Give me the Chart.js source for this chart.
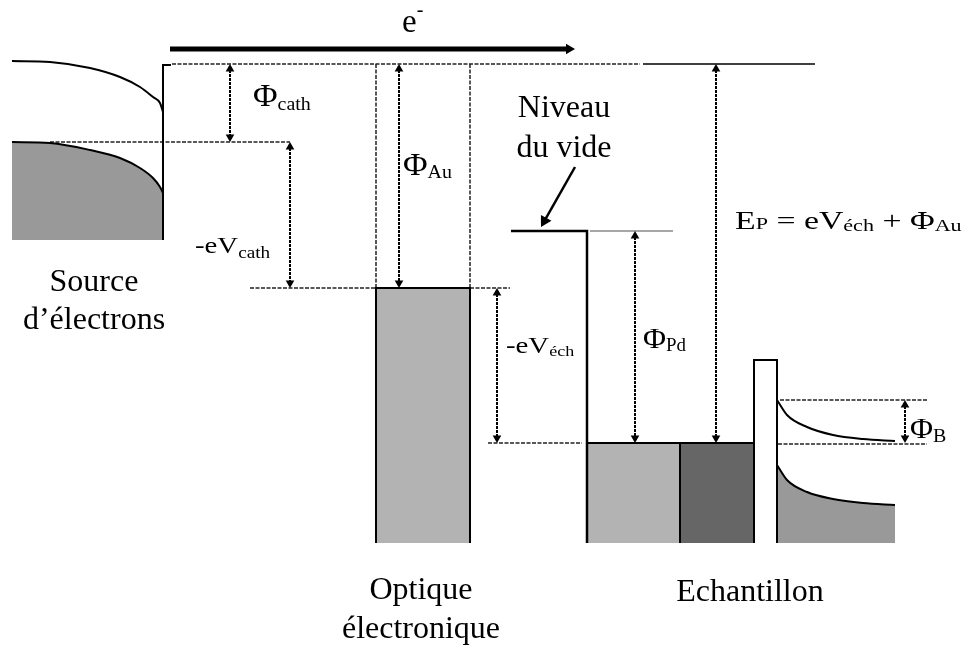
<!DOCTYPE html>
<html>
<head>
<meta charset="utf-8">
<script src="https://cdn.jsdelivr.net/npm/chart.js@4.4.1/dist/chart.umd.min.js"></script>
<style>
  body { margin: 0; background: #fff; }
  #wrap { width: 971px; height: 648px; }
</style>
</head>
<body>
<div id="wrap"><canvas id="diagram" width="971" height="648"></canvas></div>
<script>
// Diagramme de bandes : source -> optique -> échantillon
// axe x = position, axe y = énergie (vers le bas), unités de la figure

// niveaux d'énergie
const vacuumY = 64;
const cathFermiY = 142;
const auFermiY = 288;
const pdVacY = 231;
const pdFermiY = 443;
const cathBottomY = 240;
const bandBottomY = 543;
const barrierTopY = 360;

// source : courbure des bandes près de la pointe
const cathX      = [12, 50, 90, 120, 140, 153, 160, 163];
const cathVacY   = [61, 62, 68, 77, 87, 97, 103, 112];
const cathBandY  = [142, 143, 150, 158, 168, 178, 187, 193];

// semi-conducteur (à droite de la barrière)
const scX   = [777, 787, 807, 833, 863, 895];
const scCbY = [400, 415, 427, 435, 439, 441];
const scVbY = [465, 480, 492, 499, 503, 505];

// positions des blocs
const cathEdgeX = 163;
const auX = [376, 470];
const pdStepX = [511, 587];
const pdX = [587, 680, 754];
const barrierX = [754, 777];

// flèches doubles (pointillées) : x, haut, bas
const arrowX   = [230, 290, 399, 497, 635, 716, 905];
const arrowTop = [vacuumY, cathFermiY, vacuumY, auFermiY, pdVacY, vacuumY, 400];
const arrowBot = [cathFermiY, auFermiY, auFermiY, pdFermiY, pdFermiY, pdFermiY, pdFermiY];

// libellés
const labels = [
  { x: 94,  y: 291, align: 'center', parts: [['Source', 32]] },
  { x: 94,  y: 329, align: 'center', parts: [['d\u2019électrons', 32]] },
  { x: 421, y: 599, align: 'center', parts: [['Optique', 32]] },
  { x: 421, y: 638, align: 'center', parts: [['électronique', 32]] },
  { x: 750, y: 601, align: 'center', parts: [['Echantillon', 32]] },
  { x: 564, y: 117, align: 'center', parts: [['Niveau', 32]] },
  { x: 564, y: 157, align: 'center', parts: [['du vide', 32]] },
  { x: 402, y: 32, parts: [['e', 33], ['-', 20, -16]] },
  { x: 253, y: 106, sx: 1.05, parts: [['Φ', 32], ['cath', 19, 4]] },
  { x: 195, y: 253, sx: 1.2, parts: [['-eV', 24], ['cath', 16, 5]] },
  { x: 403, y: 175, sx: 1.05, parts: [['Φ', 32], ['Au', 19, 3]] },
  { x: 506, y: 353, sx: 1.2, parts: [['-eV', 24], ['éch', 15, 3]] },
  { x: 643, y: 348, sx: 1.05, parts: [['Φ', 30], ['Pd', 18, 3]] },
  { x: 910, y: 438, sx: 1.05, parts: [['Φ', 30], ['B', 19, 4]] },
  { x: 735, y: 229, sx: 1.3, parts: [['E', 26], ['P', 17, 0], [' = eV', 26], ['éch', 17, 2], [' + Φ', 26], ['Au', 17, 2]] }
];

const DOT = { borderDash: [4, 1.5], borderWidth: 1.5, borderColor: '#222' };

function seg(xs, ys, opts) {
  return Object.assign({
    data: xs.map((x, i) => ({ x: x, y: ys[i] })),
    borderColor: '#000', borderWidth: 2, pointRadius: 0, fill: false
  }, opts || {});
}

function heads(pts, rot, r) {
  return {
    data: pts, showLine: false, pointStyle: 'triangle',
    pointRadius: r, pointRotation: rot,
    pointBackgroundColor: '#000', pointBorderWidth: 0, pointBorderColor: '#000'
  };
}

let ds = [];

// remplissages
ds.push(seg(cathX, cathBandY, { borderWidth: 0, fill: { value: cathBottomY }, backgroundColor: '#999999', cubicInterpolationMode: 'monotone' }));
ds.push(seg(auX, [auFermiY, auFermiY], { borderWidth: 0, fill: { value: bandBottomY }, backgroundColor: '#b3b3b3' }));
ds.push(seg([pdX[0], pdX[1]], [pdFermiY, pdFermiY], { borderWidth: 0, fill: { value: bandBottomY }, backgroundColor: '#b3b3b3' }));
ds.push(seg([pdX[1], pdX[2]], [pdFermiY, pdFermiY], { borderWidth: 0, fill: { value: bandBottomY }, backgroundColor: '#666666' }));
ds.push(seg(scX, scVbY, { borderWidth: 0, fill: { value: bandBottomY }, backgroundColor: '#999999', cubicInterpolationMode: 'monotone' }));

// lignes pointillées de référence
ds.push(seg([172, 640], [vacuumY, vacuumY], DOT));
ds.push(seg([50, 290], [cathFermiY, cathFermiY], DOT));
ds.push(seg([250, 510], [auFermiY, auFermiY], DOT));
ds.push(seg([auX[0], auX[0]], [vacuumY, auFermiY], DOT));
ds.push(seg([auX[1], auX[1]], [vacuumY, auFermiY], DOT));
ds.push(seg([488, 582], [pdFermiY, pdFermiY], DOT));
ds.push(seg([780, 928], [400, 400], DOT));
ds.push(seg([778, 927], [444, 444], DOT));

// source
ds.push(seg(cathX, cathVacY, { cubicInterpolationMode: 'monotone' }));
ds.push(seg(cathX, cathBandY, { cubicInterpolationMode: 'monotone' }));
ds.push(seg([cathEdgeX + 8, cathEdgeX, cathEdgeX], [65, 65, cathBottomY]));

// optique
ds.push(seg([auX[0], auX[0], auX[1], auX[1]], [bandBottomY, auFermiY, auFermiY, bandBottomY]));

// échantillon
ds.push(seg([643, 815], [vacuumY, vacuumY], { borderWidth: 1.5 }));
ds.push(seg([pdStepX[0], pdStepX[1], pdStepX[1]], [pdVacY, pdVacY, bandBottomY], { borderWidth: 2.5 }));
ds.push(seg([590, 673], [pdVacY, pdVacY], { borderWidth: 1.5, borderColor: '#888888' }));
ds.push(seg([pdX[0], pdX[2]], [pdFermiY, pdFermiY]));
ds.push(seg([pdX[1], pdX[1]], [pdFermiY, bandBottomY]));
ds.push(seg([barrierX[0], barrierX[0], barrierX[1], barrierX[1]], [bandBottomY, barrierTopY, barrierTopY, bandBottomY]));
ds.push(seg(scX, scCbY, { cubicInterpolationMode: 'monotone' }));
ds.push(seg(scX, scVbY, { cubicInterpolationMode: 'monotone' }));

// flèches doubles
const R = 5;
arrowX.forEach((x, i) => {
  ds.push(seg([x, x], [arrowTop[i] + 2, arrowBot[i] - 2], { borderDash: [3, 1], borderWidth: 2 }));
  ds.push(heads([{ x: x, y: arrowTop[i] + R }, { x: x, y: arrowBot[i] - R }], [0, 180], R));
});

// flèche e-
const beamY = 49, beamX = [170, 575], RB = 6;
ds.push(seg([beamX[0], beamX[1] - 1.5 * RB], [beamY, beamY], { borderWidth: 5 }));
ds.push(heads([{ x: beamX[1] - RB, y: beamY }], [90], RB));

// flèche "Niveau du vide"
const tail = [575, 167], tip = [541, 227], RN = 7;
const len = Math.hypot(tip[0] - tail[0], tip[1] - tail[1]);
const ux = (tip[0] - tail[0]) / len, uy = (tip[1] - tail[1]) / len;
ds.push(seg([tail[0], tip[0] - ux * RN], [tail[1], tip[1] - uy * RN], { borderWidth: 2.5 }));
ds.push(heads([{ x: tip[0] - ux * RN, y: tip[1] - uy * RN }], [Math.atan2(ux, -uy) * 180 / Math.PI], RN));

// premier de la liste dessiné en premier
ds.forEach((d, i) => { d.order = ds.length - i; });

const textPlugin = {
  id: 'textLabels',
  afterDraw(chart) {
    const ctx = chart.ctx, sx = chart.scales.x, sy = chart.scales.y;
    ctx.save();
    ctx.fillStyle = '#000';
    ctx.textBaseline = 'alphabetic';
    labels.forEach(l => {
      const k = l.sx || 1;
      let w = 0;
      l.parts.forEach(p => { ctx.font = p[1] + 'px "Liberation Serif"'; w += ctx.measureText(p[0]).width; });
      let px = sx.getPixelForValue(l.x), py = sy.getPixelForValue(l.y);
      if (l.align === 'center') px -= w * k / 2;
      ctx.save();
      ctx.translate(px, py);
      ctx.scale(k, 1);
      let cx = 0;
      l.parts.forEach(p => {
        ctx.font = p[1] + 'px "Liberation Serif"';
        ctx.fillText(p[0], cx, p[2] || 0);
        cx += ctx.measureText(p[0]).width;
      });
      ctx.restore();
    });
    ctx.restore();
  }
};

new Chart(document.getElementById('diagram'), {
  type: 'line',
  data: { datasets: ds },
  options: {
    responsive: false,
    animation: false,
    layout: { padding: 0, autoPadding: false },
    plugins: { legend: { display: false }, tooltip: { enabled: false } },
    scales: {
      x: { type: 'linear', min: 0, max: 971, display: false },
      y: { type: 'linear', min: 0, max: 648, reverse: true, display: false }
    },
    elements: { line: { tension: 0, borderCapStyle: 'butt' } }
  },
  plugins: [textPlugin]
});
</script>
</body>
</html>
